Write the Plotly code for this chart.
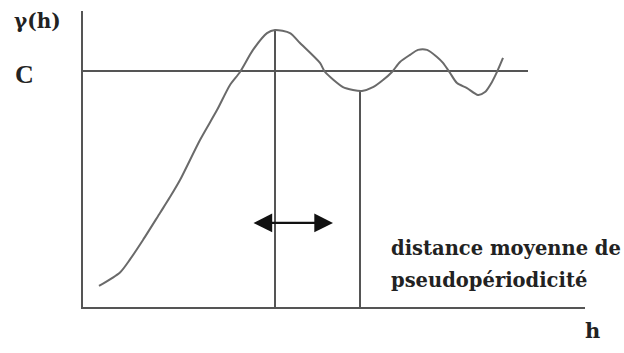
import plotly.graph_objects as go

# Variogram-like curve: lag h versus semivariance gamma(h), sill C normalised to 1
h_vals = [0.34, 0.76, 0.96, 1.22, 1.56, 1.76, 1.96, 2.36, 2.70, 2.96, 3.16,
          3.42, 3.70, 3.86, 4.16, 4.36, 4.76, 4.86, 5.22, 5.42, 5.60, 5.82,
          6.02, 6.20, 6.36, 6.56, 6.72, 6.90, 7.10, 7.22, 7.36, 7.50, 7.70,
          7.92, 8.06, 8.20, 8.30, 8.42]
gamma_vals = [0.093, 0.150, 0.205, 0.287, 0.401, 0.468, 0.540, 0.709, 0.835,
              0.941, 0.996, 1.089, 1.160, 1.173, 1.160, 1.118, 1.034, 0.996,
              0.932, 0.920, 0.916, 0.932, 0.962, 0.996, 1.038, 1.068, 1.089,
              1.089, 1.059, 1.034, 0.992, 0.949, 0.928, 0.899, 0.911, 0.954,
              0.996, 1.055]

sill = 1.0
peak_h, peak_gamma = 3.86, 1.173
trough_h, trough_gamma = 5.56, 0.916
axis_h_max = 10.06
axis_gamma_max = 1.253
sill_h_max = 8.92
arrow_h = [3.40, 5.02]
arrow_gamma = 0.359

# pixel scale of the drawing
PX_H = 50.0
PX_G = 237.0
X0, Y0 = 82, 308
W, H = 624, 353

axis_col = "#555555"
curve_col = "#6a6a6a"

fig = go.Figure()

# axes
fig.add_trace(go.Scatter(x=[0, 0, axis_h_max], y=[axis_gamma_max, 0, 0], mode="lines",
                         line=dict(color=axis_col, width=2), hoverinfo="skip"))
# sill
fig.add_trace(go.Scatter(x=[0, sill_h_max], y=[sill, sill], mode="lines",
                         line=dict(color=axis_col, width=2), hoverinfo="skip"))
# first maximum and following minimum
fig.add_trace(go.Scatter(x=[peak_h, peak_h], y=[0, peak_gamma], mode="lines",
                         line=dict(color=axis_col, width=2), hoverinfo="skip"))
fig.add_trace(go.Scatter(x=[trough_h, trough_h], y=[0, trough_gamma], mode="lines",
                         line=dict(color=axis_col, width=2), hoverinfo="skip"))
# experimental curve
fig.add_trace(go.Scatter(x=h_vals, y=gamma_vals, mode="lines",
                         line=dict(color=curve_col, width=2, shape="spline", smoothing=0.7),
                         hoverinfo="skip"))

# double-headed arrow
fig.add_annotation(x=arrow_h[1], y=arrow_gamma, ax=arrow_h[0], ay=arrow_gamma,
                   xref="x", yref="y", axref="x", ayref="y", text="",
                   showarrow=True, arrowhead=2, startarrowhead=2,
                   arrowside="end+start", arrowwidth=2.2, arrowsize=1.7,
                   startarrowsize=1.7, arrowcolor="#111111")

def label(text, px, py, size, family, xanchor="left"):
    fig.add_annotation(x=px / W, y=1 - py / H, xref="paper", yref="paper",
                       text="<b>" + text + "</b>", showarrow=False,
                       xanchor=xanchor, yanchor="middle",
                       font=dict(family=family, size=size, color="#222222"))

label("γ(h)", 12, 21, 20, "DejaVu Serif")
label("C", 13, 74, 26, "Liberation Serif")
label("distance moyenne de", 389, 248, 19.5, "DejaVu Serif")
label("pseudopériodicité", 389, 280, 19.5, "DejaVu Serif")
label("h", 583, 330, 21, "DejaVu Serif")

fig.update_layout(
    width=W, height=H, margin=dict(l=0, r=0, t=0, b=0),
    paper_bgcolor="white", plot_bgcolor="white", showlegend=False,
    xaxis=dict(range=[-X0 / PX_H, (W - X0) / PX_H], visible=False, fixedrange=True),
    yaxis=dict(range=[-(H - Y0) / PX_G, Y0 / PX_G], visible=False, fixedrange=True),
)

fig.write_html("out.html")
